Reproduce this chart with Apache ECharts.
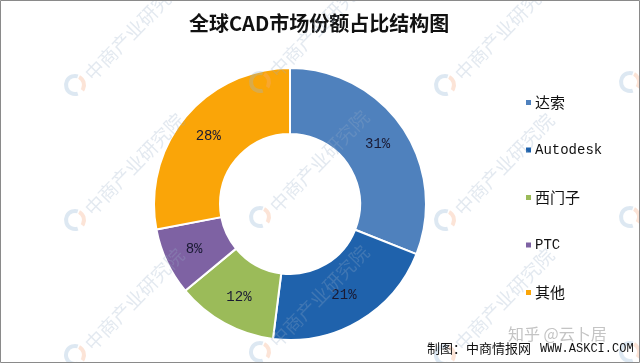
<!DOCTYPE html>
<html>
<head>
<meta charset="utf-8">
<script src="https://cdn.jsdelivr.net/npm/echarts@6/dist/echarts.min.js"></script>
<style>html,body{margin:0;padding:0;background:#fff}#c{width:640px;height:363px}</style>
</head>
<body>
<div id="c"></div>
<script>
const categories = ['达索', 'Autodesk', '西门子', 'PTC', '其他'];
const shares = [31, 21, 12, 8, 28];
const colors = ['#4F81BD', '#1F62AC', '#9BBB59', '#7E62A3', '#FAA508'];
const titleText = '全球CAD市场份额占比结构图';
const sourceText = '制图：中商情报网 WWW.ASKCI.COM';
const creditText = '知乎 @云卜居';
const watermarkText = '中商产业研究院';

const chart = echarts.init(document.getElementById('c'), null, {renderer: 'canvas'});

// watermark grid
const wm = [];
const cols = [75, 260, 445, 630];
const rows = [-50, 85, 220, 355];
cols.forEach((x, i) => {
  rows.forEach((y) => {
    const yy = y + (i % 2 === 0 ? 0 : -3);
    wm.push({
      type: 'arc', z: 100,
      shape: {cx: x, cy: yy, r: 9, startAngle: Math.PI * 0.4, endAngle: Math.PI * 1.6},
      style: {stroke: 'rgba(150,185,215,0.32)', lineWidth: 4, fill: null}
    });
    wm.push({
      type: 'arc', z: 100,
      shape: {cx: x, cy: yy, r: 9, startAngle: -Math.PI * 0.35, endAngle: Math.PI * 0.2},
      style: {stroke: 'rgba(245,170,130,0.32)', lineWidth: 4, fill: null}
    });
    wm.push({
      type: 'text', z: 100,
      x: x + 13, y: yy - 8,
      rotation: 0.8,
      style: {text: watermarkText, fill: 'rgba(150,175,200,0.27)', font: '19px "Noto Sans CJK SC"', textVerticalAlign: 'middle'}
    });
  });
});

const option = {
  backgroundColor: '#fff',
  animation: false,
  title: {
    text: titleText,
    left: 184, top: 8,
    textStyle: {fontSize: 20, fontWeight: 'bold', color: '#111', fontFamily: 'Noto Sans CJK SC'}
  },
  legend: {
    orient: 'vertical',
    left: 519, top: 90,
    itemGap: 33,
    itemWidth: 7, itemHeight: 7,
    icon: 'rect',
    data: categories,
    formatter: function (n) { return /^[A-Za-z]+$/.test(n) ? '{m|' + n + '}' : n; },
    textStyle: {
      fontSize: 15, color: '#111', fontFamily: 'Noto Sans CJK SC', padding: [0, 0, 0, -2],
      rich: {m: {fontSize: 14, fontFamily: 'Liberation Mono', color: '#111'}}
    }
  },
  series: [{
    type: 'pie',
    center: [290, 204],
    radius: [70, 136],
    startAngle: 90,
    clockwise: true,
    avoidLabelOverlap: false,
    itemStyle: {borderColor: '#fff', borderWidth: 2},
    label: {
      show: true, position: 'inside',
      formatter: '{c}%',
      fontSize: 14, color: '#1a1a33', fontFamily: 'Liberation Mono'
    },
    labelLine: {show: false},
    data: categories.map((n, i) => ({name: n, value: shares[i], itemStyle: {color: colors[i]}}))
  }],
  graphic: [
    {type: 'rect', z: 200, shape: {x: 0.5, y: 0.5, width: 639, height: 362}, style: {fill: null, stroke: '#8a8a8a', lineWidth: 1}},
    {type: 'text', z: 150, x: 508, y: 326, style: {text: creditText, fill: '#c4c4c4', font: '16px "Noto Sans CJK SC"'}},
    {type: 'text', z: 150, x: 427, y: 342, style: {text: '制图：中商情报网 ', fill: '#111', font: '13px "Noto Sans CJK SC"'}},
    {type: 'text', z: 150, x: 540, y: 343, style: {text: 'WWW.ASKCI.COM', fill: '#111', font: '12px "Liberation Mono"'}}
  ].concat(wm)
};
chart.setOption(option);
</script>
</body>
</html>
